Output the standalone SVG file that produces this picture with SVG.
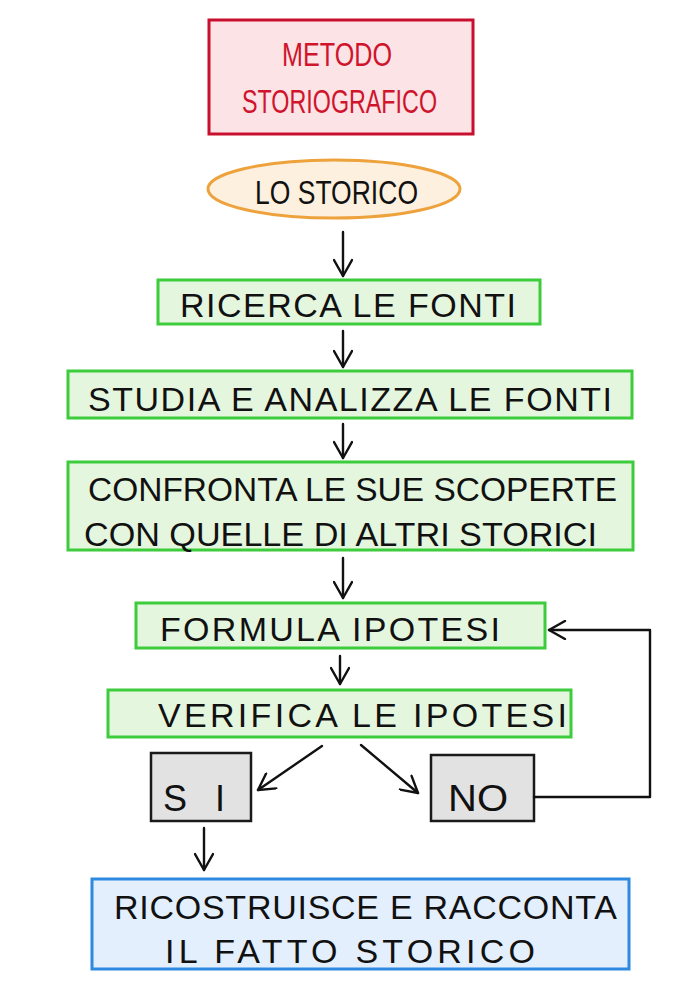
<svg xmlns="http://www.w3.org/2000/svg" width="700" height="990" viewBox="0 0 700 990">
<defs>
<marker id="ah" viewBox="0 0 20 20" refX="18" refY="10" markerWidth="20" markerHeight="20" markerUnits="userSpaceOnUse" orient="auto">
<path d="M2,1 L18,10 L2,19" fill="none" stroke="#111" stroke-width="2.4" stroke-linecap="round" stroke-linejoin="round"/>
</marker>
<style>
text{font-family:"Liberation Sans","DejaVu Sans",sans-serif;font-size:34px;fill:#111;text-anchor:start}
.g{fill:#e5f6df;stroke:#3ccc3c;stroke-width:3}
.gr{fill:#e2e2e2;stroke:#1a1a1a;stroke-width:2.5}
.c{fill:none;stroke:#111;stroke-width:2.4;stroke-linecap:round}
.t{fill:#d0142c;font-size:33px}
</style>
</defs>
<rect width="700" height="990" fill="#ffffff"/>
<g id="title">
<rect x="209" y="20" width="264" height="114" fill="#fbe3e6" stroke="#c8102e" stroke-width="3"/>
<text x="282" y="66" textLength="110" lengthAdjust="spacingAndGlyphs" class="t">METODO</text>
<text x="242" y="113" textLength="195" lengthAdjust="spacingAndGlyphs" class="t">STORIOGRAFICO</text>
</g>
<g id="storico">
<ellipse cx="334" cy="189" rx="126" ry="29" fill="#fdf0df" stroke="#eea23c" stroke-width="3"/>
<text x="255" y="204" textLength="163" lengthAdjust="spacingAndGlyphs" style="font-size:33px">LO  STORICO</text>
</g>
<g id="ricerca">
<rect x="158" y="280" width="382" height="44" class="g"/>
<text x="180" y="317" textLength="336" lengthAdjust="spacing">RICERCA LE FONTI</text>
</g>
<g id="studia">
<rect x="68" y="371" width="564" height="47" class="g"/>
<text x="88" y="411" textLength="524" lengthAdjust="spacing">STUDIA E ANALIZZA LE FONTI</text>
</g>
<g id="confronta">
<rect x="68" y="462" width="565" height="88" class="g"/>
<text x="88" y="501" textLength="529" lengthAdjust="spacingAndGlyphs">CONFRONTA LE SUE SCOPERTE</text>
<text x="84" y="546" textLength="513" lengthAdjust="spacingAndGlyphs">CON QUELLE DI ALTRI STORICI</text>
</g>
<g id="formula">
<rect x="136" y="603" width="409" height="45" class="g"/>
<text x="160" y="641" textLength="340" lengthAdjust="spacing">FORMULA IPOTESI</text>
</g>
<g id="verifica">
<rect x="108" y="690" width="463" height="47" class="g"/>
<text x="158" y="727" textLength="409" lengthAdjust="spacing">VERIFICA LE IPOTESI</text>
</g>
<g id="si">
<rect x="151" y="753" width="100" height="68" class="gr"/>
<text x="163" y="811" textLength="62" lengthAdjust="spacing" style="font-size:36px">SI</text>
</g>
<g id="no">
<rect x="431" y="755" width="103" height="66" class="gr"/>
<text x="448" y="811" textLength="60" lengthAdjust="spacingAndGlyphs" style="font-size:36px">NO</text>
</g>
<g id="ricostruisce">
<rect x="92" y="879" width="537" height="90" fill="#e3effc" stroke="#2d8ae0" stroke-width="3"/>
<text x="114" y="919" textLength="503" lengthAdjust="spacing">RICOSTRUISCE E RACCONTA</text>
<text x="165" y="963" textLength="370" lengthAdjust="spacing">IL FATTO STORICO</text>
</g>
<g id="connectors">
<line x1="343" y1="232" x2="343" y2="276" class="c" marker-end="url(#ah)"/>
<line x1="343" y1="331" x2="343" y2="367" class="c" marker-end="url(#ah)"/>
<line x1="343" y1="424" x2="343" y2="458" class="c" marker-end="url(#ah)"/>
<line x1="343" y1="558" x2="343" y2="598" class="c" marker-end="url(#ah)"/>
<line x1="340" y1="656" x2="340" y2="684" class="c" marker-end="url(#ah)"/>
<line x1="322" y1="746" x2="258" y2="790" class="c" marker-end="url(#ah)"/>
<line x1="361" y1="745" x2="418" y2="793" class="c" marker-end="url(#ah)"/>
<line x1="204" y1="828" x2="204" y2="870" class="c" marker-end="url(#ah)"/>
<polyline points="534,797 650,797 650,630 549,630" class="c" stroke-linejoin="round" marker-end="url(#ah)"/>
</g>
</svg>
